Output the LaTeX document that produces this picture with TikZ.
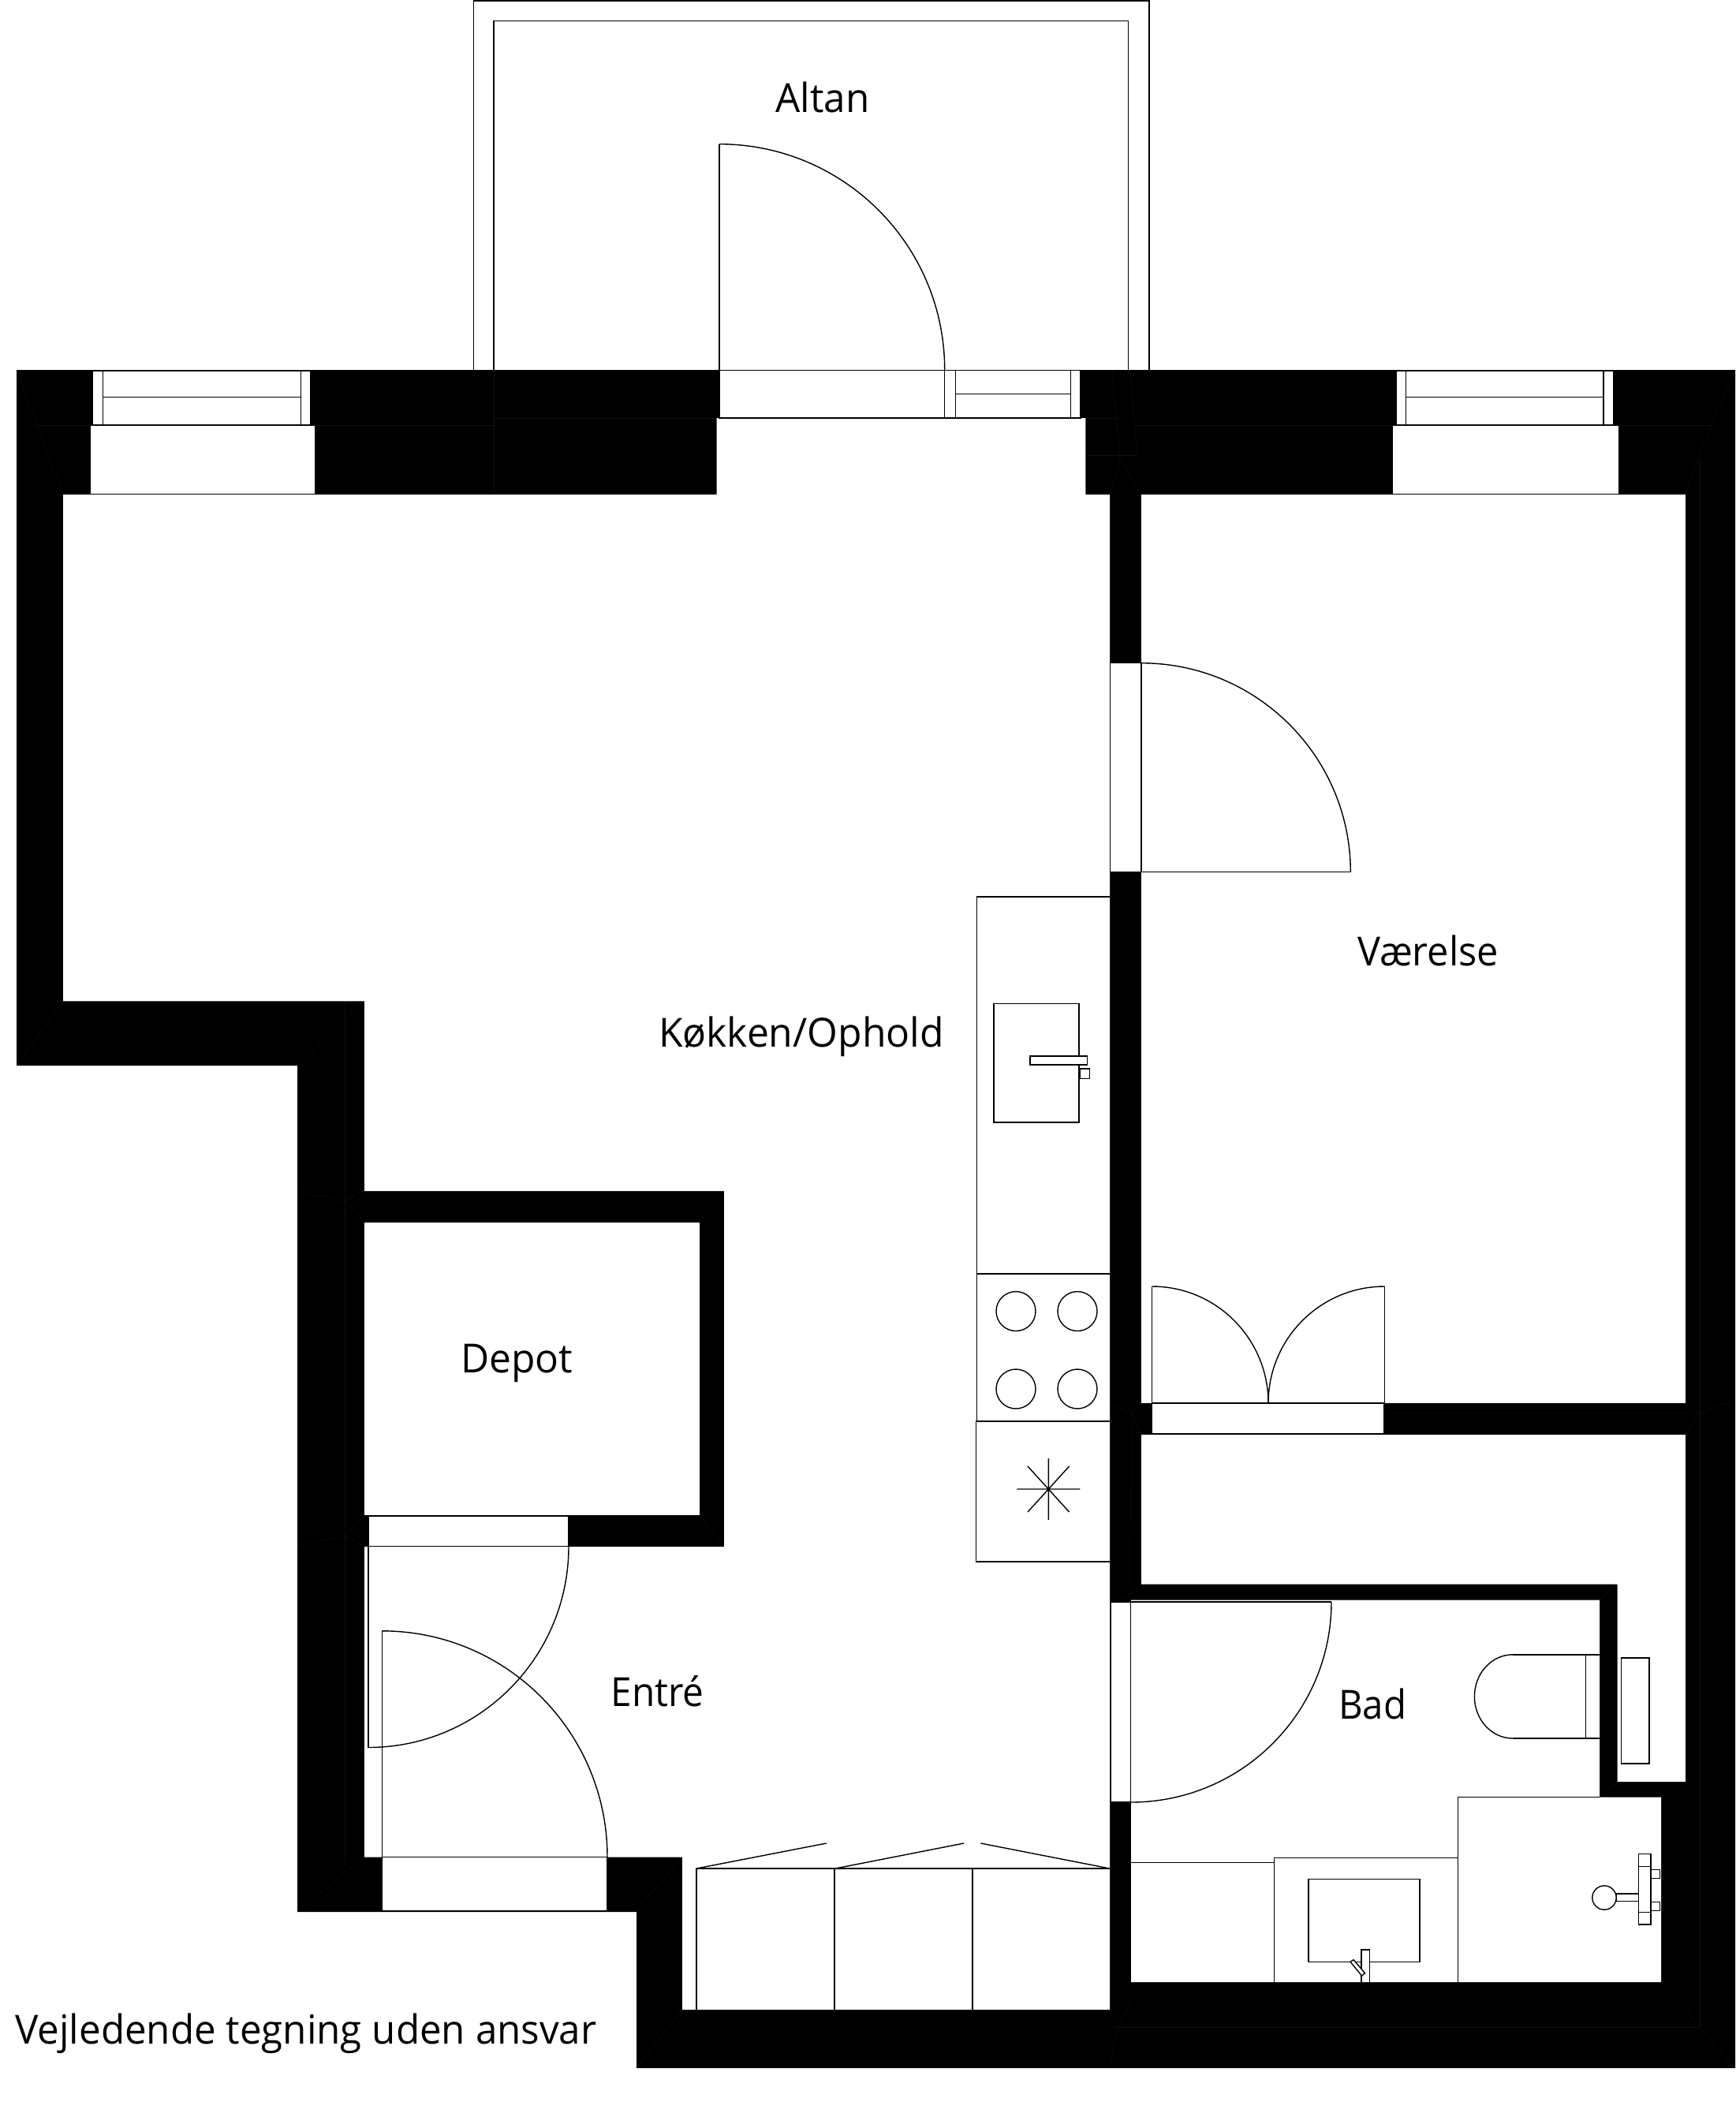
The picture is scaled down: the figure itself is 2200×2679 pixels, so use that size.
\documentclass[tikz,border=0pt]{standalone}
\usepackage{graphicx}
\usepackage{fontspec}
\setmainfont{Open Sans}
\definecolor{seamcol}{HTML}{101010}
\tikzset{
  wall/.style={fill=black,draw=none},
  room/.style={fill=white,draw=none},
  thing/.style={draw=black,line width=1.2pt,line join=miter},
  plate/.style={thing,fill=white},
  seam/.style={draw=seamcol,line width=0.4pt},
  roomlabel/.style={anchor=base west,inner sep=0pt,outer sep=0pt,text=black},
}
\newcommand{\qarc}[4]{(#1,#2) .. controls ({#1+0.5523*(#3-#1)},#2) and (#3,{#4+0.5523*(#2-#4)}) .. (#3,#4)}
\newcommand{\lab}[5]{\node[roomlabel] (#1) at (#2,#3) {\fontsize{43.4pt}{50pt}\selectfont\resizebox{#4\dimexpr0.03cm\relax}{\height}{#5}};}
\begin{document}
\begin{tikzpicture}[x=0.03cm,y=-0.03cm]
\useasboundingbox (0,0) rectangle (2200,2679);
\fill[white] (0,0) rectangle (2200,2679);

% balcony
\draw[thing] (600.7,469) -- (600.7,0.8) -- (1457,0.8) -- (1457,469);
\draw[thing] (626,469) -- (626,26.7) -- (1430.7,26.7) -- (1430.7,469);

% walls
\path[wall] (21,469) -- (2200,469) -- (2200,2622) -- (807,2622) -- (807,2424) -- (377,2424) -- (377,1351) -- (21,1351) -- cycle;

% seams in the walls
\draw[seam] (21,469) -- (80,627);
\draw[seam] (46,539) -- (626,539) (626,469) -- (626,627) (626,530) -- (908,530);
\draw[seam] (2199,470) -- (2170,539) -- (2152,583) -- (2137,627);
\draw[seam] (1438,539) -- (2170,539);
\draw[seam] (1410,470) -- (1420,580) -- (1446.7,627) (1420,583) -- (1407,627);
\draw[seam] (1432.7,470) -- (1441.7,577);
\draw[seam] (1376.7,530.7) -- (1415.7,530.7) (1376.7,577) -- (1441.7,577);
\draw[seam] (80,1269) -- (21,1351) (462,1269) -- (377,1351);
\draw[seam] (437,1269) -- (437,2361);
\draw[seam] (380,1511) -- (437,1523) -- (460,1510) (437,1523) -- (461,1549);
\draw[seam] (377,1960) -- (437,1947) -- (461.6,1923) (437,1947) -- (467,1947) (461,1960.6) -- (437,1947);
\draw[seam] (886.6,1921) -- (918,1961);
\draw[seam] (377,2423) -- (461.6,2354.5) (865,2354.5) -- (806,2423);
\draw[seam] (865,2548) -- (807,2622);
\draw[seam] (850,2570) -- (1415,2570) (1415.5,2571.7) -- (1407,2622) (1434,2540) -- (1415.5,2572);
\draw[seam] (2137,2548) -- (2198,2622);
\draw[seam] (2155,583) -- (2155,2570) (1415,2570) -- (2155,2570);
\draw[seam] (2137,1779) -- (2155,1792) -- (2200,1775) (2155,1792) -- (2137,1819) (1447,1792) -- (2155,1792);
\draw[seam] (1447,1778) -- (1435,1792) -- (1447,1819) (1409,1781) -- (1435,1792) -- (1432,2024);
\draw[seam] (1408.7,2031) -- (1432,2024) -- (1447,2008.5);
\draw[seam] (2050.5,2008.5) -- (2028,2028.6);
\draw[seam] (2050.5,2259) -- (2028.6,2276);

% rooms
\path[room] (80,627) -- (908.5,627) -- (908.5,530) -- (1376.4,530) -- (1376.4,627) -- (1407,627) -- (1407,2548) -- (865,2548) -- (865,2354.5) -- (462,2354.5) -- (462,1961) -- (918,1961) -- (918,1510) -- (462,1510) -- (462,1269.3) -- (80,1269.3) -- cycle;
\path[room] (462,1550) rectangle (886.6,1921);
\path[room] (1447,627) rectangle (2136.8,1778.6);
\path[room] (1447,1819) -- (2136.8,1819) -- (2136.8,2259) -- (2050.5,2259) -- (2050.5,2008.5) -- (1447,2008.5) -- cycle;
\path[room] (1434,2028.6) -- (2028,2028.6) -- (2028,2278.7) -- (2106,2278.7) -- (2106,2513) -- (1434,2513) -- cycle;

% window niches and left/right windows
\path[room] (115,539.7) rectangle (398.5,626);
\path[room] (1766.4,539.7) rectangle (2052,626);
\foreach \a/\b/\c/\d in {117/130.5/381.6/394,1770/1782.6/2033/2045.6}{
  \draw[plate] (\a,470) rectangle (\d,538.7);
  \draw[thing] (\b,470) -- (\b,538.7) (\c,470) -- (\c,538.7) (\b,503.7) -- (\c,503.7);
}

% balcony door
\draw[plate] (912,469.5) rectangle (1370,530);
\draw[thing] (1197.7,469.5) -- (1197.7,530) (1211.5,469.5) -- (1211.5,530) (1357.5,469.5) -- (1357.5,530) (1211.5,499.7) -- (1357.5,499.7);
\draw[thing] (911.8,469) -- (911.8,182.7);
\draw[thing] \qarc{911.8}{182.7}{1197.7}{469};

% bedroom door
\draw[plate] (1407.7,840.7) rectangle (1447,1105.7);
\draw[thing] (1447,1105.7) -- (1712.3,1105.7);
\draw[thing] \qarc{1447}{840.7}{1712.3}{1105.7};

% double door
\draw[plate] (1460.7,1779) rectangle (1755,1818);
\draw[thing] (1460.7,1779) -- (1460.7,1631) (1755.6,1779) -- (1755.6,1631);
\draw[thing] \qarc{1460.7}{1631}{1608}{1779};
\draw[thing] \qarc{1755.6}{1631}{1608}{1779};

% depot door
\draw[plate] (467,1922) rectangle (721,1960.6);
\draw[thing] (467,1960.6) -- (467,2215.5);
\draw[thing] \qarc{467}{2215.5}{721}{1960.6};

% entrance door
\draw[plate] (484.4,2354.5) rectangle (770,2423);
\draw[thing] (484.4,2354.5) -- (484.4,2067.8);
\draw[thing] \qarc{484.4}{2067.8}{770}{2354.5};

% bathroom door
\draw[plate] (1408.7,2031) rectangle (1433.7,2285);
\draw[thing] (1433.7,2031) -- (1688,2031);
\draw[thing] \qarc{1433.7}{2285}{1688}{2031};

% kitchen
\draw[thing] (1407,1137) -- (1238.7,1137) -- (1238.7,1802);
\draw[thing] (1238.7,1615) -- (1407,1615);
\draw[thing] (1407,1802) -- (1237.7,1802) -- (1237.7,1980) -- (1407,1980);
\draw[plate] (1260,1272.7) rectangle (1368,1423);
\draw[plate] (1306,1339) rectangle (1378.7,1350);
\draw[plate] (1369,1355) rectangle (1381.7,1367.4);
\foreach \cx/\cy in {1288/1662.5,1366/1662.5,1288/1761,1366/1761}{
  \draw[thing] (\cx,\cy) circle [radius=25];
}
\draw[thing] (1289.3,1888) -- (1369.3,1888) (1329.3,1849) -- (1329.3,1927) (1303,1859) -- (1355.6,1917) (1303,1917) -- (1355.6,1859);

% wardrobes
\draw[thing] (883,2548) -- (883,2369) -- (1407,2369);
\draw[thing] (1058,2369) -- (1058,2548) (1233,2369) -- (1233,2548);
\draw[thing] (883,2369) -- (1047.7,2337) (1059,2369) -- (1222,2337) (1243.4,2337) -- (1407,2369);

% bathroom fittings
\draw[thing] (2028,2278.7) -- (1848.5,2278.7) -- (1848.5,2513);
\draw[thing] (1434,2361.7) -- (1615.3,2361.7);
\draw[thing] (1615.3,2513) -- (1615.3,2355.7) -- (1848.5,2355.7);
\draw[thing] (1659,2382.7) rectangle (1800,2487.7);
\draw[plate] (1726,2513) -- (1726,2472) -- (1736.7,2472) -- (1736.7,2513);
\draw[plate] (1712,2487.3) -- (1716,2484.7) -- (1730.6,2501.7) -- (1726.5,2505) -- cycle;
\draw[thing] (2028,2097.8) -- (1918,2097.8);
\draw[thing] \qarc{1918}{2097.8}{1869.4}{2151};
\draw[thing] \qarc{1918}{2204}{1869.4}{2151};
\draw[thing] (1918,2204) -- (2028,2204) (2010.7,2097.8) -- (2010.7,2204);
\draw[plate] (2055.6,2102) rectangle (2090.8,2236);
\draw[plate] (2049,2401) rectangle (2077.6,2410.7);
\draw[plate] (2034,2406) circle [radius=15.2];
\draw[plate] (2077.6,2350.7) rectangle (2092.9,2440);
\draw[thing] (2077.6,2366.3) -- (2092.9,2366.3) (2077.6,2424.3) -- (2092.9,2424.3);
\draw[plate] (2092.9,2370.7) rectangle (2104.6,2381.3);
\draw[plate] (2092.9,2411.3) rectangle (2104.6,2422.3);

% labels
\lab{altan}{983.6}{142.3}{119}{Altan}
\lab{koekken}{835}{1327}{362}{Køkken/Ophold}
\lab{vaerelse}{1721}{1224.7}{179}{Værelse}
\lab{depot}{584}{1740.5}{142}{Depot}
\lab{entre}{774.5}{2163}{118}{Entré}
\lab{bad}{1697}{2179.5}{86}{Bad}
\lab{note}{19.4}{2591.7}{737}{Vejledende tegning uden ansvar}
\end{tikzpicture}
\end{document}
